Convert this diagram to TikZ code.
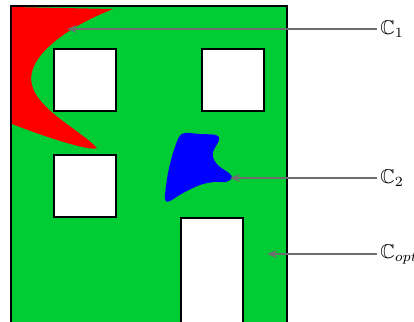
\documentclass[tikz,border=0pt]{standalone}
\usepackage{amssymb}
\usetikzlibrary{arrows.meta}
\definecolor{bgreen}{RGB}{0,204,51}
\definecolor{lgray}{RGB}{110,110,110}
\tikzset{
  win/.style={draw=black,line width=1pt,fill=white},
  pointer/.style={draw=lgray,line width=0.8pt,-{Stealth[length=5pt,width=4pt]}},
  lab/.style={anchor=west,inner sep=1.5pt}
}
\begin{document}
\begin{tikzpicture}[x=0.5pt,y=-0.5pt]
\useasboundingbox (0,0) rectangle (414,322);
% building
\path[fill=bgreen,draw=black,line width=1pt] (11,6) rectangle (287,330);
% red region
\path[fill=red] (12,7) -- (113,9) .. controls (60,30) and (25,60) .. (32,85)
  .. controls (38,110) and (80,130) .. (97,148)
  .. controls (90,152) and (40,135) .. (12,124) -- cycle;
% blue region
\path[fill=blue] plot[smooth cycle,tension=0.55] coordinates {
  (179,137) (185,133) (200,134) (216,135) (219,140) (213,152) (214,160)
  (220,167) (229,173) (232,178) (226,182) (214,182) (200,185) (183,193)
  (170,201) (166,201) (165,195) (168,173) (173,153)};
% windows and door
\node[win,minimum width=31pt,minimum height=31pt,inner sep=0pt] (w1) at (85,80) {};
\node[win,minimum width=31pt,minimum height=31pt,inner sep=0pt] (w2) at (233,80) {};
\node[win,minimum width=31pt,minimum height=31pt,inner sep=0pt] (w3) at (85,186) {};
\path[win] (181,218) rectangle (243,335);
% labels
\node[lab] (c1) at (377,29) {$\mathbb{C}_1$};
\node[lab] (c2) at (377,178) {$\mathbb{C}_2$};
\node[lab] (c3) at (377,254) {$\mathbb{C}_{opt}$};
\coordinate (p1) at (67,29);
\coordinate (p2) at (230,178);
\coordinate (p3) at (267,254);
\draw[pointer] (c1.west) -- (p1);
\draw[pointer] (c2.west) -- (p2);
\draw[pointer] (c3.west) -- (p3);
\end{tikzpicture}
\end{document}
